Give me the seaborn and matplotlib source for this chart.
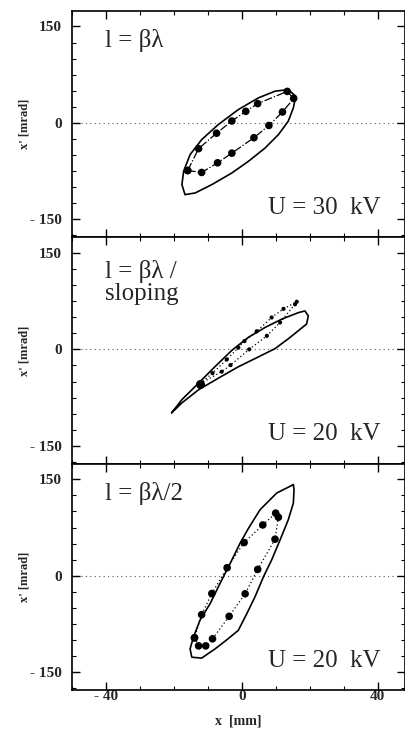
import numpy as np
import pandas as pd
import seaborn as sns
import matplotlib.pyplot as plt
from matplotlib.ticker import MultipleLocator

# --- data (x in mm, x' in mrad) ---
# panel 1: l = beta*lambda, U = 30 kV
acc1_x = [13.7, 15.9, 15.2, 13.7, 10.8, 6.9, 2.0, -2.9, -8.8, -13.7, -16.7, -17.6, -17.1, -15.2, -11.8, -6.9, -1.0, 4.9, 9.8, 13.7]
acc1_y = [51.8, 41.5, 23.3, 2.6, -18.2, -38.9, -59.6, -77.8, -95.9, -108.9, -111.5, -96.0, -75.1, -49.3, -26.0, -2.6, 20.7, 38.9, 49.3, 51.8]
meas1_x = [-15.9, -11.8, -7.1, -2.9, 3.6, 8.0, 12.0, 15.3, 13.4, 4.7, 1.2, -2.9, -7.4, -12.7, -15.9]
meas1_y = [-74, -77, -62, -47, -23, -4, 17, 38, 49, 30, 18, 3, -16, -40, -74]

# panel 2: l = beta*lambda / sloping, U = 20 kV
acc2_x = [-20.6, -17.6, -12.7, -7.9, -2.9, 2.0, 6.9, 11.8, 16.7, 18.6, 19.6, 19.1, 16.7, 13.7, 9.8, 4.9, -1.0, -6.9, -12.7, -17.6, -20.1, -20.6]
acc2_y = [-98.5, -78.1, -52.5, -27.1, -1.5, 18.8, 34.1, 47.0, 57.1, 59.7, 52.1, 39.4, 29.1, 16.4, 1.1, -11.8, -27.1, -44.9, -62.8, -83.2, -96.0, -98.5]
meas2a_x = [-12.3, -8.6, -4.4, -1.0, 0.8, 4.4, 8.8, 12.3, 16.2]
meas2a_y = [-53.6, -37, -15.8, 2.6, 12.8, 28, 49.5, 63, 74]
meas2b_x = [-12.3, -5.9, -3.3, 2.2, 7.4, 11.3, 15.7]
meas2b_y = [-53.6, -34.7, -24.5, 0, 21, 41.8, 70]

# panel 3: l = beta*lambda/2, U = 20 kV
acc3_x = [15.2, 15.4, 15.2, 13.7, 11.3, 8.8, 6.4, 3.9, 1.5, -1.0, -4.5, -7.8, -11.8, -14.7, -15.2, -14.2, -12.3, -9.3, -6.4, -3.4, -0.5, 2.0, 5.4, 10.3, 15.2]
acc3_y = [141.7, 133.9, 113.0, 87.0, 55.8, 24.5, -1.6, -32.8, -58.9, -84.8, -100.0, -113.5, -128, -126.6, -113.5, -95.3, -69.2, -43.3, -12.0, 19.2, 50.5, 73.9, 102.7, 128.6, 141.7]
meas3_x = [-13.9, -12.7, -10.6, -8.6, -3.7, 1.0, 4.7, 9.8, 10.8, 10.0, 6.2, 0.7, -4.3, -8.8, -11.8, -13.9]
meas3_y = [-96.4, -109, -109, -98, -63, -28, 9.9, 56.8, 91, 97.4, 79, 51.6, 12.5, -27.6, -60.4, -96.4]

labels_top = ["l = βλ", "l = βλ /\nsloping", "l = βλ/2"]
labels_volt = ["U = 30  kV", "U = 20  kV", "U = 20  kV"]

# --- style ---
sns.set_theme(style="ticks")
plt.rcParams["font.family"] = ["Liberation Serif", "DejaVu Serif"]
plt.rcParams["lines.solid_joinstyle"] = "round"

fig, axes = plt.subplots(3, 1, sharex=True, figsize=(4.06, 7.32), dpi=100)
fig.subplots_adjust(left=0.177, right=0.997, top=0.985, bottom=0.057, hspace=0)

acc = [(acc1_x, acc1_y), (acc2_x, acc2_y), (acc3_x, acc3_y)]

for i, ax in enumerate(axes):
    ax.axhline(0, color="0.35", lw=0.8, ls=(0, (1, 3)), zorder=0)
    df_acc = pd.DataFrame({"x": acc[i][0], "y": acc[i][1]})
    sns.lineplot(data=df_acc, x="x", y="y", sort=False, estimator=None,
                 color="black", lw=1.2, ax=ax)

# measured emittance points
df1 = pd.DataFrame({"x": meas1_x, "y": meas1_y})
sns.lineplot(data=df1, x="x", y="y", sort=False, estimator=None, color="black",
             lw=0.9, ls="-.", ax=axes[0])
sns.scatterplot(data=df1, x="x", y="y", color="black", s=30, edgecolor="none", ax=axes[0])

df2a = pd.DataFrame({"x": meas2a_x, "y": meas2a_y})
df2b = pd.DataFrame({"x": meas2b_x, "y": meas2b_y})
for d in (df2a, df2b):
    sns.lineplot(data=d, x="x", y="y", sort=False, estimator=None, color="black",
                 lw=0.9, ls=(0, (1, 2)), ax=axes[1])
    sns.scatterplot(data=d, x="x", y="y", color="black", s=9, edgecolor="none", ax=axes[1])
axes[1].scatter(meas2a_x[0], meas2a_y[0], color="black", s=30, zorder=3)

df3 = pd.DataFrame({"x": meas3_x, "y": meas3_y})
sns.lineplot(data=df3, x="x", y="y", sort=False, estimator=None, color="black",
             lw=0.9, ls=(0, (1, 2)), ax=axes[2])
sns.scatterplot(data=df3, x="x", y="y", color="black", s=30, edgecolor="none", ax=axes[2])

text_y = [0.87, 0.80, 0.87]
for i, ax in enumerate(axes):
    ax.set_xlim(-50, 48)
    ax.set_ylim(-178, 174)
    ax.set_yticks([-150, 0, 150])
    ax.set_yticklabels(["- 150", "0", "150"], fontweight="bold", fontsize=11)
    ax.yaxis.set_minor_locator(MultipleLocator(25))
    ax.xaxis.set_minor_locator(MultipleLocator(10))
    ax.tick_params(which="both", direction="in", top=True, right=True, color="black")
    ax.tick_params(which="major", length=6, width=1)
    ax.tick_params(which="minor", length=3, width=0.8)
    ax.tick_params(axis="y", pad=7)
    ax.tick_params(axis="x", pad=0)
    for s in ax.spines.values():
        s.set_color("black")
        s.set_linewidth(1.2)
    ax.set_ylabel("x' [mrad]", fontweight="bold", fontsize=9)
    ax.yaxis.set_label_coords(-0.125, 0.5)
    ax.set_xlabel("")
    ax.text(0.10, text_y[i], labels_top[i], transform=ax.transAxes, fontsize=18,
            ha="left", va="center", linespacing=1.0)
    ax.text(0.59, 0.13, labels_volt[i], transform=ax.transAxes, fontsize=18,
            ha="left", va="center")

axes[2].set_xticks([-40, 0, 40])
axes[2].set_xticklabels(["- 40", "0", "40"], fontweight="bold", fontsize=11)
axes[2].set_xlabel("x  [mm]", fontweight="bold", fontsize=10, labelpad=8)

fig.savefig("out.png", dpi=100)
